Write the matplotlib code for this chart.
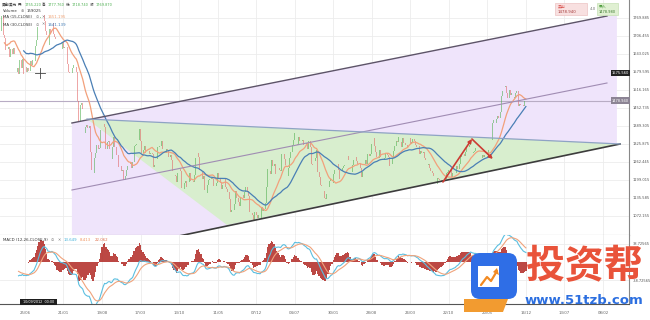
import numpy as np
import pandas as pd
import matplotlib
matplotlib.use('Agg')
import matplotlib.pyplot as plt
import matplotlib.dates as mdates
from matplotlib.patches import Polygon, Rectangle, FancyBboxPatch

plt.rcParams['font.family'] = ['DejaVu Sans', 'Noto Sans CJK SC']

# weekly closes, XAU/USD (Monday-stamped weeks)
closes_2011 = [1746, 1712, 1598, 1606, 1565]
closes_2012 = [1616, 1640, 1664, 1727, 1725, 1725, 1725, 1776, 1711, 1700, 1657, 1662, 1668,
               1631, 1660, 1642, 1663, 1644, 1580, 1592, 1572, 1622, 1595, 1627, 1572, 1598,
               1579, 1592, 1583, 1619, 1604, 1621, 1617, 1671, 1691, 1738, 1771, 1774, 1772,
               1780, 1758, 1724, 1711, 1676, 1730, 1714, 1752, 1713, 1702, 1696, 1657, 1658, 1656]
closes_2013 = [1662, 1687, 1664, 1667, 1667, 1609, 1578, 1575, 1577, 1592, 1605, 1596, 1581,
               1476, 1404, 1463, 1469, 1448, 1366, 1386, 1392, 1383, 1388, 1296, 1234, 1223,
               1277, 1295, 1322, 1310, 1312, 1376, 1395, 1396, 1386, 1308, 1333, 1338, 1310,
               1272, 1315, 1352, 1315, 1287, 1288, 1244, 1250, 1230, 1235, 1198, 1212, 1234]
closes_2014 = [1247, 1254, 1264, 1240, 1262, 1318, 1324, 1326, 1339, 1379, 1335, 1294, 1303,
               1318, 1293, 1300, 1302, 1290, 1293, 1292, 1246, 1252, 1274, 1315, 1317, 1320,
               1337, 1310, 1307, 1294, 1310, 1306, 1280, 1287, 1269, 1231, 1216, 1214, 1192,
               1222, 1238, 1231, 1171, 1169, 1190, 1197, 1175, 1191, 1222, 1195, 1195, 1192]
closes_2015 = [1216, 1277, 1293, 1279, 1234, 1228, 1203, 1213, 1165, 1152, 1183, 1199, 1201,
               1206, 1204, 1177, 1178, 1188, 1225, 1205, 1189, 1168, 1180, 1201, 1173, 1168,
               1157, 1131, 1085, 1095, 1094, 1113, 1159, 1134, 1121, 1107, 1137, 1145, 1137,
               1156, 1176, 1162, 1141, 1088, 1081, 1076, 1056, 1086, 1075, 1065, 1076, 1061]
closes_2016 = [1103, 1091, 1097, 1117, 1174, 1239, 1230, 1221, 1271, 1250, 1255, 1221, 1221,
               1243, 1235, 1232, 1290, 1290, 1272, 1252, 1212, 1243, 1275, 1298, 1322, 1340,
               1366, 1327, 1323, 1350, 1335, 1335, 1340, 1321, 1327, 1328, 1310, 1338, 1315,
               1257, 1251, 1267, 1275, 1304, 1226, 1208, 1183, 1177, 1159, 1134, 1132, 1151]
closes_2017 = [1173, 1196, 1204, 1190, 1219, 1234, 1234, 1257, 1234, 1202, 1229, 1243, 1249,
               1253, 1285, 1284, 1268, 1228, 1228, 1253, 1268, 1280, 1266, 1254, 1256, 1242,
               1209, 1228, 1255, 1269, 1257, 1289, 1284, 1291, 1325, 1347, 1320, 1297, 1280,
               1275, 1304, 1280, 1272, 1269, 1275, 1293, 1287, 1281, 1248, 1256, 1278, 1302]
closes_2018 = [1320, 1338, 1332, 1350, 1333, 1315, 1347, 1330, 1323, 1324, 1313, 1347, 1325,
               1332, 1345, 1336, 1323, 1315, 1318, 1291, 1302, 1294, 1298, 1278, 1269, 1252,
               1256, 1241, 1231, 1223, 1214, 1212, 1184, 1206, 1201, 1198, 1193, 1200, 1192,
               1203, 1222, 1227, 1235, 1233, 1209, 1222, 1222, 1222, 1248, 1238, 1257, 1280, 1287]
closes_2019 = [1290, 1282, 1298, 1317, 1314, 1322, 1329, 1294, 1299, 1302, 1313, 1292, 1291,
               1290, 1275, 1286, 1280, 1286, 1277, 1284, 1305, 1341, 1341, 1399, 1409, 1400,
               1415, 1426, 1419, 1440, 1496, 1513, 1527, 1529, 1507, 1488, 1517, 1497, 1505,
               1488, 1490, 1505, 1514, 1459, 1468, 1462, 1464, 1459, 1476, 1478]
last_week = '2019-12-16'

price_ticks = [1769.885, 1706.455, 1643.025, 1579.595, 1516.165, 1452.735,
               1389.305, 1325.875, 1262.445, 1199.015, 1135.585, 1072.155]
macd_ticks = [38.72565, -38.72565]
date_ticks = pd.date_range('2012-06-25', periods=16, freq='210D')

# drawing tools (date, price)
channel_top = [('2013-03-08', 1399.9), ('2021-03-02', 1776.9)]
channel_low = [('2013-03-08', 1163.8), ('2021-03-02', 1540.8)]
support_line = [('2014-08-24', 995.0), ('2021-05-12', 1325.9)]
triangle_zone = [('2013-05-29', 1414.0), ('2015-07-01', 1040.4), ('2021-05-12', 1325.9)]
purple_zone = [('2013-03-08', 1399.9), ('2021-03-02', 1776.9), ('2021-04-25', 1784.0),
               ('2021-04-25', 1323.6), ('2014-08-24', 995.0), ('2013-03-08', 995.0)]
arrow_path = [('2018-09-20', 1192.0), ('2019-02-25', 1343.5), ('2019-06-19', 1273.0)]
last_price = 1478.94
marker_price = 1575.56


def pts(lst):
    return [(mdates.datestr2num(d), p) for d, p in lst]


closes = np.array(closes_2011 + closes_2012 + closes_2013 + closes_2014 + closes_2015 +
                  closes_2016 + closes_2017 + closes_2018 + closes_2019, dtype=float)
dates = pd.date_range(end=last_week, periods=len(closes), freq='W-MON')
xd = mdates.date2num(dates)
opens = np.r_[closes[0], closes[:-1]]

s = pd.Series(closes)
ma15 = s.rolling(15).mean()
ma30 = s.rolling(30).mean()
dif = s.ewm(span=12, adjust=False).mean() - s.ewm(span=26, adjust=False).mean()
dea = dif.ewm(span=9, adjust=False).mean()
hist = 2 * (dif - dea)

W, H = 650, 320


def px_box(x0, y0, x1, y1):
    return [x0 / W, 1 - y1 / H, (x1 - x0) / W, (y1 - y0) / H]


fig = plt.figure(figsize=(6.5, 3.2), dpi=100)
ax = fig.add_axes(px_box(0, 0, 629, 235))
mx = fig.add_axes(px_box(0, 235, 629, 304))
xlim = (mdates.datestr2num('2012-02-10'), mdates.datestr2num('2021-06-30'))

# ---- price panel
ax.add_patch(Polygon(pts(purple_zone), closed=True, fc='#efe4fb', ec='none', zorder=1))
ax.add_patch(Polygon(pts(triangle_zone), closed=True, fc='#d8eece', ec='none', zorder=1.5))

up = closes >= opens
dn = ~up
ax.bar(xd[up], (closes - opens)[up], bottom=opens[up], width=4.5,
       color='#4cae4c', alpha=0.55, zorder=3)
ax.bar(xd[dn], (closes - opens)[dn], bottom=opens[dn], width=4.5,
       color='#e06060', alpha=0.55, zorder=3)
ax.plot(xd, ma15, color='#f2a07b', lw=0.9, zorder=4)
ax.plot(xd, ma30, color='#4a7fb5', lw=0.9, zorder=4)

for line, col, lw in [(channel_top, '#5d5468', 1.0), (channel_low, '#a08cb3', 0.8),
                      (support_line, '#3c3c3c', 1.2),
                      ([triangle_zone[0], triangle_zone[2]], '#8ea3c4', 0.9)]:
    p = np.array(pts(line))
    ax.plot(p[:, 0], p[:, 1], color=col, lw=lw, zorder=5)
ax.axhline(last_price, color='#b8acc4', lw=0.8, zorder=2)

ap = pts(arrow_path)
for a, b in zip(ap[:-1], ap[1:]):
    ax.annotate('', xy=b, xytext=a, zorder=6,
                arrowprops=dict(arrowstyle='-|>', color='#cc3b33', lw=1.2,
                                mutation_scale=5, shrinkA=0, shrinkB=0))

ax.set_xlim(xlim)
ax.set_ylim(1005.2, 1833.3)
ax.set_xticks(mdates.date2num(date_ticks))
ax.tick_params(axis='x', length=0, labelbottom=False)
ax.yaxis.tick_right()
ax.set_yticks(price_ticks)
ax.set_yticklabels([f'{v:.3f}' for v in price_ticks])
ax.tick_params(axis='y', length=0, labelsize=2.6, pad=2.8, colors='#555555')
ax.grid(True, color='#ececec', lw=0.6, zorder=0)
ax.set_axisbelow(True)
for sp in ['top', 'left']:
    ax.spines[sp].set_visible(False)
ax.spines['right'].set_color('#888888')
ax.spines['bottom'].set_color('#999999')
ax.spines['bottom'].set_linewidth(0.8)

yt = ax.get_yaxis_transform()
ax.text(1.0, marker_price, f'{marker_price:.3f}', transform=yt, ha='right', va='center',
        fontsize=2.6, color='white', zorder=7,
        bbox=dict(fc='#222222', ec='none', pad=0.8))
ax.text(1.0, last_price, f'{last_price:.3f}', transform=yt, ha='right', va='center',
        fontsize=2.6, color='white', zorder=7,
        bbox=dict(fc='#8c8494', ec='none', pad=0.8))

# ---- MACD panel
mx.bar(xd[33:], hist[33:], width=7, color='#b5342f', alpha=0.9, zorder=3)
mx.plot(xd[25:], dif[25:], color='#5bbfe0', lw=0.8, zorder=4)
mx.plot(xd[25:], dea[25:], color='#f0a37c', lw=0.8, zorder=4)
mx.set_xlim(xlim)
mx.set_ylim(-90, 58)
mx.set_xticks(mdates.date2num(date_ticks))
mx.set_xticklabels([d.strftime('%d/%m') for d in date_ticks])
mx.tick_params(axis='x', length=0, labelsize=2.8, pad=5, colors='#666666')
mx.yaxis.tick_right()
mx.set_yticks(macd_ticks)
mx.set_yticklabels([f'{v:.5f}' for v in macd_ticks])
mx.tick_params(axis='y', length=0, labelsize=2.6, pad=2.8, colors='#555555')
mx.grid(True, color='#ececec', lw=0.6, zorder=0)
mx.set_axisbelow(True)
for sp in ['top', 'left']:
    mx.spines[sp].set_visible(False)
mx.spines['right'].set_color('#888888')
mx.spines['bottom'].set_color('#555555')
mx.spines['bottom'].set_linewidth(0.8)

# ---- overlay: legends, tool boxes, watermark
ov = fig.add_axes([0, 0, 1, 1], zorder=10)
ov.set_xlim(0, W)
ov.set_ylim(H, 0)
ov.axis('off')
ov.patch.set_alpha(0)
renderer = fig.canvas.get_renderer()


def chain(x, y, parts, size, gap=1.2):
    # place text pieces one after another on a row
    for t, c in parts:
        txt = ov.text(x, y, t, fontsize=size, color=c, va='center')
        x += txt.get_window_extent(renderer=renderer).width + gap


dark = '#333333'
green = '#4caf50'
icon = '#777777'
chain(2, 5, [('黄金/美元', dark), ('开:', dark), ('1755.220', green), ('高:', dark),
             ('1777.760', green), ('低:', dark), ('1718.740', green), ('收:', dark),
             ('1769.870', green)], 2.5)
chain(3, 11, [('Volume', dark), ('⊗', icon), ('159025', dark)], 2.8, gap=3)
chain(3, 17.5, [('MA (15,CLOSE)', dark), ('⊙', icon), ('✕', icon), ('1651.195', '#f0a070')],
      2.8, gap=3)
chain(3, 24.5, [('MA (30,CLOSE)', dark), ('⊙', icon), ('✕', icon), ('1641.139', '#3c78b5')],
      2.8, gap=3)
chain(3, 240, [('MACD (12,26,CLOSE,9)', dark), ('⊙', icon), ('✕', icon),
               ('13.649', '#3fb0d8'), ('8.413', '#f0925c'), ('22.062', '#e0704c')], 2.8, gap=3)

# crosshair cursor
ov.plot([35, 45], [73, 73], color='#444444', lw=0.6)
ov.plot([40, 40], [68, 78], color='#444444', lw=0.6)

# date box on the axis
ov.add_patch(Rectangle((20, 299), 37, 6, fc='#1e1e1e', ec='none'))
ov.text(38.5, 302, '10/09/2012  00:00', fontsize=2.4, color='white', ha='center', va='center')

# sell / buy boxes
ov.add_patch(Rectangle((555, 3), 32, 12, fc='#f8e0e0', ec='#e9b9b9', lw=0.4))
ov.text(558, 6.5, '卖出', fontsize=2.8, color='#d9534f', va='center')
ov.text(558, 12, '1478.940', fontsize=2.8, color='#a33a3a', va='center')
ov.text(592.5, 9, '4.0', fontsize=2.8, color='#777777', ha='center', va='center')
ov.add_patch(Rectangle((597, 3), 21, 12, fc='#e0f0d2', ec='#bcdca8', lw=0.4))
ov.text(599, 6.5, '买入', fontsize=2.8, color='#4a9a3a', va='center')
ov.text(599, 12, '1478.980', fontsize=2.6, color='#3d7a30', va='center')

# watermark logo
ov.add_patch(FancyBboxPatch((471, 253), 46, 46, boxstyle='round,pad=0,rounding_size=9',
                            fc='#2f6ee6', ec='none'))
ov.add_patch(Rectangle((478, 266), 21, 21, fc='white', ec='none'))
ov.plot([481, 487, 491, 497], [285, 277, 281, 271], color='#f28a22', lw=1.6,
        solid_capstyle='round')
ov.add_patch(Polygon([(497, 268), (499, 275), (493, 272)], closed=True, fc='#f28a22', ec='none'))
ov.add_patch(Polygon([(464, 299), (508, 299), (503, 312), (464, 312)], closed=True,
                     fc='#f29b30', ec='none'))
ov.text(584, 267, '投资帮', fontsize=28, color='#e9533a', ha='center', va='center',
        fontweight='bold', family=['Noto Sans CJK SC', 'DejaVu Sans'])
ov.text(584, 300, 'www.51tzb.com', fontsize=9.5, color='#2c6fe0', ha='center', va='center',
        fontweight='bold')

fig.savefig('out.png', dpi=100)
